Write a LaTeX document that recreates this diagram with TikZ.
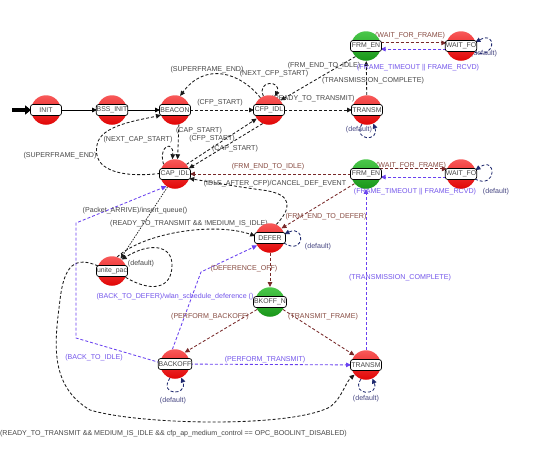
\documentclass[tikz,border=0pt]{standalone}
\usepackage{fontspec}
\setmainfont{Liberation Sans}
\usetikzlibrary{
arrows.meta,
backgrounds,
positioning
}
\definecolor{stgray}{RGB}{70,70,70}
\definecolor{edbrown}{RGB}{120,40,40}
\definecolor{txbrown}{RGB}{135,75,65}
\definecolor{edpurple}{RGB}{105,65,240}
\definecolor{txpurple}{RGB}{115,85,235}
\definecolor{ednavy}{RGB}{30,40,110}
\definecolor{txnavy}{RGB}{70,70,130}
\definecolor{redtop}{RGB}{248,90,90}
\definecolor{redbot}{RGB}{225,5,5}
\definecolor{grntop}{RGB}{75,200,75}
\definecolor{grnbot}{RGB}{25,150,25}

\begin{document}
\begin{tikzpicture}[
    x=1pt, y=-1pt,
    >={Triangle[length=5pt,width=4.5pt]},
    font=\fontsize{7.1}{8}\selectfont,
    namebox/.style={draw, fill=white,
      rounded corners=2.5pt,
      line width=0.7pt,
      minimum width=31pt,
      minimum height=11pt,
      inner sep=0.5pt,
      text=stgray,
      font=\fontsize{6.9}{7}\selectfont},
    redstate/.style={circle, minimum size=29.5pt, inner sep=0pt,
      top color=redtop, bottom color=redbot,
      label={[namebox]center:#1}},
    grnstate/.style={circle, minimum size=29.5pt, inner sep=0pt,
      top color=grntop, bottom color=grnbot,
      label={[namebox]center:#1}},
    ed/.style={draw=black!90, line width=0.85pt, dash pattern=on 3pt off 2pt, ->},
    edb/.style={ed, draw=edbrown},
    edp/.style={ed, draw=edpurple},
    edn/.style={ed, draw=ednavy},
    lbl/.style={text=stgray, inner sep=0pt},
    lblb/.style={text=txbrown, inner sep=0pt},
    lblp/.style={text=txpurple, inner sep=0pt},
    lbln/.style={text=txnavy, inner sep=0pt}
  ]
  \useasboundingbox (0,0) rectangle (552,453);

  % states
  \node[redstate=INIT] (INIT) at (46,110) {};
  \node[redstate={BSS\_INIT}] (BSSINIT) at (112,110) {};
  \node[redstate=BEACON] (BEACON) at (175,110) {};
  \node[redstate={CFP\_IDL}] (CFPIDL) at (269,110) {};
  \node[redstate=TRANSM] (TRANSMa) at (367,110) {};
  \node[grnstate={FRM\_EN}] (FRMENa) at (366,46) {};
  \node[redstate={WAIT\_FO}] (WAITa) at (461,46) {};
  \node[redstate={CAP\_IDL}] (CAPIDL) at (175,174) {};
  \node[grnstate={FRM\_EN}] (FRMENb) at (366,174) {};
  \node[redstate={WAIT\_FO}] (WAITb) at (461,174) {};
  \node[redstate=DEFER] (DEFER) at (270,238) {};
  \node[redstate={unite\_pac}] (UNITE) at (112,271) {};
  \node[grnstate={BKOFF\_N}] (BKOFF) at (270,302) {};
  \node[redstate=BACKOFF] (BACKOFF) at (175,364) {};
  \node[redstate=TRANSM] (TRANSMb) at (366,365) {};

  \coordinate (start) at (12,110);

  \begin{scope}[on background layer]
  \fill[white] (0,0) rectangle (552,453);

  % top part
  \draw[line width=3.5pt, -{Triangle[length=6pt,width=9pt]}] (start) -- (INIT);
  \draw[->, line width=0.8pt] (INIT) -- (BSSINIT);
  \draw[->, line width=0.8pt] (BSSINIT) -- (BEACON);
  \draw[ed] (BEACON) -- (CFPIDL);
  \draw[ed] (CFPIDL.125) .. controls (240,72) and (205,62) .. (BEACON.70);
  \draw[ed] (CFPIDL.112) .. controls (256,80) and (282,80) .. (CFPIDL.65);
  \draw[ed] (CFPIDL) -- (TRANSMa);
  \draw[ed] (TRANSMa) -- (FRMENa);
  \draw[ed] (FRMENa.225) -- (CFPIDL.40);
  \draw[edb] (FRMENa.12) -- (WAITa.168);
  \draw[edp] (WAITa.192) -- (FRMENa.-12);
  \draw[edn] (WAITa.-25) .. controls (495,60) and (498,30) .. (WAITa.15);
  \draw[edn] (TRANSMa.-110) .. controls (352,141) and (380,142) .. (TRANSMa.-65);

  % cap part
  \draw[ed] (BEACON.-75) -- (CAPIDL.80);
  \draw[ed] (CAPIDL.40) -- (CFPIDL.215);
  \draw[ed] (CFPIDL.245) -- (CAPIDL.22);
  \draw[ed] (CAPIDL.140) .. controls (158,145) and (174,140) .. (CAPIDL.100);
  \draw[ed] (CAPIDL.178) .. controls (120,178) and (92,170) .. (97,145)
    .. controls (100,125) and (140,120) .. (BEACON.200);
  \draw[edb] (FRMENb) -- (CAPIDL);
  \draw[ed] (DEFER.65) .. controls (290,210) and (296,194) .. (262,190)
    .. controls (232,186) and (205,181) .. (CAPIDL.-18);
  \draw[edb] (FRMENb.220) -- (DEFER.40);
  \draw[edb] (FRMENb.20) -- (WAITb.160);
  \draw[edp] (WAITb.192) -- (FRMENb.-12);
  \draw[edn] (WAITb.-20) .. controls (497,190) and (497,155) .. (WAITb.15);
  \draw[edn] (DEFER.-20) .. controls (305,256) and (306,224) .. (DEFER.15);
  \draw[edb] (DEFER) -- (BKOFF);

  % unite_pac
  \draw[ed, dash pattern=on 1.5pt off 1.2pt, line width=0.7pt] (CAPIDL.-120) -- (UNITE.55);
  \draw[ed] (UNITE.-25) .. controls (150,292) and (172,290) .. (172,265)
    .. controls (172,245) and (150,242) .. (UNITE.50);
  \draw[ed] (UNITE.70) .. controls (145,232) and (215,222) .. (DEFER.172);
  \draw[ed] (UNITE.160) .. controls (75,256) and (64,265) .. (60,300)
    .. controls (55,340) and (48,385) .. (90,410)
    .. controls (140,425) and (290,428) .. (330,407)
    .. controls (342,398) and (345,383) .. (TRANSMb.220);

  % backoff part
  \draw[edp] (BACKOFF.175) -- (76,338) -- (76,223) -- (CAPIDL.235);
  \draw[edp] (BACKOFF.100) -- (201,272) -- (DEFER.210);
  \draw[edb] (BKOFF.210) -- (BACKOFF.50);
  \draw[edb] (BKOFF.-30) -- (TRANSMb.140);
  \draw[edp] (BACKOFF) -- (TRANSMb);
  \draw[edp] (TRANSMb) -- (FRMENb);
  \draw[edn] (BACKOFF.-110) .. controls (158,396) and (188,396) .. (BACKOFF.-65);
  \draw[edn] (TRANSMb.-110) .. controls (350,396) and (380,396) .. (TRANSMb.-65);

  % labels
  \node[lbl] (tCfpStartA) at (220,103) {(CFP\_START)};
  \node[lbl] (tSfEndA) at (207,70) {(SUPERFRAME\_END)};
  \node[lbl] (tNextCfp) at (274,74) {(NEXT\_CFP\_START)};
  \node[lbl] (tReadyA) at (313,99) {(READY\_TO\_TRANSMIT)};
  \node[lbl] (tTxCompA) at (373,81) {(TRANSMISSION\_COMPLETE)};
  \node[lbl] (tFrmIdleA) at (324,66) {(FRM\_END\_TO\_IDLE)};
  \node[lblb] (tWaitA) at (410,36) {(WAIT\_FOR\_FRAME)};
  \node[lblp] (tTimeoutA) at (418,68) {(FRAME\_TIMEOUT || FRAME\_RCVD)};
  \node[lbln] (tDefWaitA) at (484,54) {(default)};
  \node[lbln] (tDefTxA) at (359,130) {(default)};
  \node[lbl] (tCapStartA) at (199,131) {(CAP\_START)};
  \node[lbl] (tCfpStartB) at (212,139) {(CFP\_START)};
  \node[lbl] (tCapStartB) at (235,149) {(CAP\_START)};
  \node[lbl] (tNextCap) at (138,140) {(NEXT\_CAP\_START)};
  \node[lbl] (tSfEndB) at (60,156) {(SUPERFRAME\_END)};
  \node[lblb] (tFrmIdleB) at (268,167) {(FRM\_END\_TO\_IDLE)};
  \node[lbl] (tIdleCfp) at (275,184) {(IDLE\_AFTER\_CFP)/CANCEL\_DEF\_EVENT};
  \node[lblb] (tFrmDefer) at (326,217) {(FRM\_END\_TO\_DEFER)};
  \node[lblb] (tWaitB) at (411,166) {(WAIT\_FOR\_FRAME)};
  \node[lblp] (tTimeoutB) at (415,192) {(FRAME\_TIMEOUT || FRAME\_RCVD)};
  \node[lbln] (tDefWaitB) at (496,192) {(default)};
  \node[lbln] (tDefDefer) at (318,247) {(default)};
  \node[lblb] (tDefOff) at (244,269) {(DEFERENCE\_OFF)};
  \node[lbl] (tPacket) at (135,211) {(Packet\_ARRIVE)/insert\_queue()};
  \node[lbl] (tDefUnite) at (141,264) {(default)};
  \node[lbl] (tReadyB) at (189,224) {(READY\_TO\_TRANSMIT \&\& !MEDIUM\_IS\_IDLE)};
  \node[lbl, anchor=east] (tReadyC) at (347,434) {(READY\_TO\_TRANSMIT \&\& MEDIUM\_IS\_IDLE \&\& cfp\_ap\_medium\_control == OPC\_BOOLINT\_DISABLED)};
  \node[lblp] (tBackIdle) at (94,358) {(BACK\_TO\_IDLE)};
  \node[lblp] (tBackDefer) at (175,297) {(BACK\_TO\_DEFER)/wlan\_schedule\_deference ()};
  \node[lblb] (tPerfBackoff) at (210,317) {(PERFORM\_BACKOFF)};
  \node[lblb] (tTxFrame) at (323,317) {(TRANSMIT\_FRAME)};
  \node[lblp] (tPerfTx) at (265,360) {(PERFORM\_TRANSMIT)};
  \node[lblp] (tTxCompB) at (400,278) {(TRANSMISSION\_COMPLETE)};
  \node[lbln] (tDefBackoff) at (173,401) {(default)};
  \node[lbln] (tDefTxB) at (366,399) {(default)};
  \end{scope}
\end{tikzpicture}
\end{document}
